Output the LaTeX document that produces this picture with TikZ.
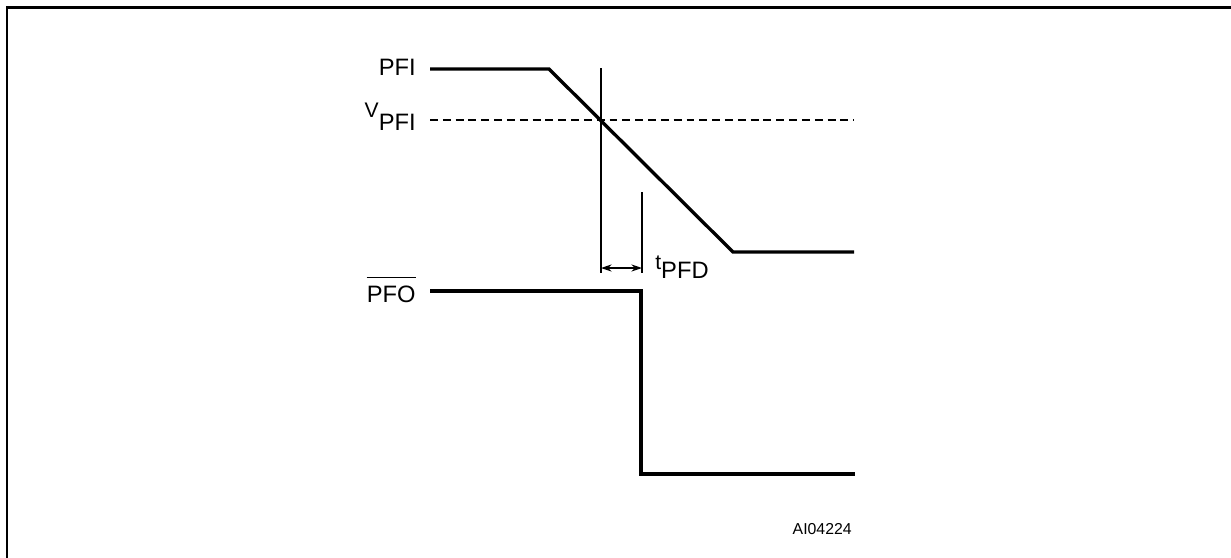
\documentclass[tikz,border=0pt]{standalone}
\usepackage{fontspec}
\setmainfont{Liberation Sans}
\usetikzlibrary{arrows.meta, positioning}

\begin{document}
\begin{tikzpicture}[x=0.02cm, y=-0.02cm,
        wave/.style={line width=1.9pt, line join=miter},
        marker/.style={line width=0.75pt},
        sig/.style={font=\fontsize{13.5}{15}\selectfont, inner sep=0pt, anchor=base east}]

        \useasboundingbox (0,0) rectangle (1231,558);

        % Frame
        \coordinate (frameBL) at (7,562);
        \coordinate (frameTR) at (1235,7.5);
        \draw[line width=1.4pt] (frameBL) |- (frameTR);

        % Signal labels
        \node[sig] (pfi)  at (416,75)  {PFI};
        \node[sig] (vpfi) at (416,130) {\raisebox{7.4pt}{\fontsize{12}{12}\selectfont V}PFI};
        \node[sig] (pfo)  at (416,302) {PFO};
        \draw[line width=0.6pt] ([yshift=4.5pt]pfo.north west) -- ([yshift=4.5pt]pfo.north east);

        % PFI waveform
        \coordinate (pfiA) at (430,69);
        \coordinate (pfiB) at (549,69);
        \coordinate (pfiC) at (733,252);
        \coordinate (pfiD) at (854,252);
        \draw[wave] (pfiA) -- (pfiB) -- (pfiC) -- (pfiD);

        % Threshold level
        \coordinate (thrA) at (430,120);
        \coordinate (thrB) at (854,120);
        \draw[line width=1.2pt, dash pattern=on 4.5pt off 2.8pt] (thrA) -- (thrB);

        % PFO waveform
        \coordinate (pfoA) at (430,291);
        \coordinate (pfoB) at (641,291);
        \coordinate (pfoC) at (641,474);
        \coordinate (pfoD) at (855,474);
        \draw[wave] (pfoA) -- (pfoB) -- (pfoC) -- (pfoD);

        % Delay markers
        \coordinate (mkAtop) at (601,68);
        \coordinate (mkAbot) at (601,273);
        \coordinate (mkBtop) at (642,192);
        \coordinate (mkBbot) at (642,273);
        \draw[marker] (mkAtop) -- (mkAbot);
        \draw[marker] (mkBtop) -- (mkBbot);
        \coordinate (dlyA) at (601,268);
        \coordinate (dlyB) at (642,268);
        \draw[marker, {Stealth[length=6pt, width=4pt]}-{Stealth[length=6pt, width=4pt]}] (dlyA) -- (dlyB);
        \node[sig, anchor=base west] (tpfd) at (655,278) {\raisebox{5pt}{\fontsize{12}{12}\selectfont t}PFD};

        % Figure code
        \node[font=\fontsize{9}{10}\selectfont, inner sep=0pt, anchor=base east] (code) at (852,534) {AI04224};
      \end{tikzpicture}
\end{document}
